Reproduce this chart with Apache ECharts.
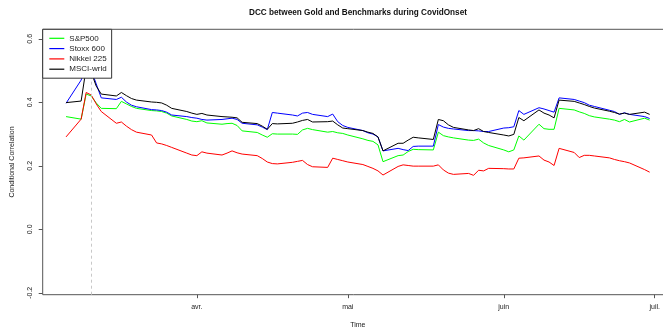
<!DOCTYPE html>
<html>
<head>
<meta charset="utf-8">
<script src="https://cdn.jsdelivr.net/npm/echarts@6/dist/echarts.min.js"></script>
<style>
  html, body { margin: 0; padding: 0; background: #fff; }
  #chart { width: 663px; height: 329px; }
</style>
</head>
<body>
<div id="chart"></div>
<script>
// Trading days, 6 March 2020 to 30 June 2020
const dates = [
  '2020-03-06','2020-03-09','2020-03-10','2020-03-11','2020-03-12','2020-03-13',
  '2020-03-16','2020-03-17','2020-03-18','2020-03-19','2020-03-20',
  '2020-03-23','2020-03-24','2020-03-25','2020-03-26','2020-03-27',
  '2020-03-30','2020-03-31','2020-04-01','2020-04-02','2020-04-03',
  '2020-04-06','2020-04-07','2020-04-08','2020-04-09','2020-04-10',
  '2020-04-13','2020-04-14','2020-04-15','2020-04-16','2020-04-17',
  '2020-04-20','2020-04-21','2020-04-22','2020-04-23','2020-04-24',
  '2020-04-27','2020-04-28','2020-04-29','2020-04-30','2020-05-01',
  '2020-05-04','2020-05-05','2020-05-06','2020-05-07','2020-05-08',
  '2020-05-11','2020-05-12','2020-05-13','2020-05-14','2020-05-15',
  '2020-05-18','2020-05-19','2020-05-20','2020-05-21','2020-05-22',
  '2020-05-25','2020-05-26','2020-05-27','2020-05-28','2020-05-29',
  '2020-06-01','2020-06-02','2020-06-03','2020-06-04','2020-06-05',
  '2020-06-08','2020-06-09','2020-06-10','2020-06-11','2020-06-12',
  '2020-06-15','2020-06-16','2020-06-17','2020-06-18','2020-06-19',
  '2020-06-22','2020-06-23','2020-06-24','2020-06-25','2020-06-26',
  '2020-06-29','2020-06-30'
];

// Dynamic conditional correlation of gold with each benchmark
const sp500 = [
  0.355,0.347,0.426,0.420,0.398,0.381,0.380,0.403,0.395,0.387,0.381,0.374,0.373,0.371,0.366,0.357,0.346,0.341,
  0.339,0.342,0.335,0.331,0.333,0.334,0.327,0.310,0.305,0.297,0.290,0.301,0.300,0.300,0.299,0.313,0.318,0.314,0.306,0.308,0.304,0.302,
  0.297,0.285,0.280,0.277,0.266,0.213,0.232,0.234,0.245,0.252,0.251,0.250,0.306,0.295,0.291,0.288,0.281,0.280,0.284,0.272,0.264,
  0.250,0.244,0.250,0.294,0.281,0.331,0.317,0.315,0.315,0.381,0.376,0.370,0.365,0.358,0.354,0.347,0.344,0.339,0.346,0.338,0.350,0.344
];
const stoxx600 = [
  0.397,0.470,0.514,0.502,0.458,0.414,0.409,0.416,0.401,0.391,0.386,0.377,0.376,0.374,0.369,0.360,0.355,0.352,
  0.350,0.346,0.344,0.346,0.348,0.350,0.346,0.334,0.329,0.322,0.314,0.368,0.366,0.360,0.357,0.366,0.368,0.362,0.355,0.363,0.339,0.327,
  0.321,0.311,0.304,0.300,0.291,0.247,0.255,0.251,0.248,0.261,0.262,0.262,0.330,0.322,0.318,0.316,0.311,0.311,0.310,0.308,0.308,
  0.319,0.320,0.323,0.374,0.362,0.383,0.379,0.374,0.369,0.414,0.409,0.404,0.399,0.391,0.387,0.375,0.371,0.362,0.367,0.362,0.355,0.349
];
const nikkei225 = [
  0.291,0.347,0.431,0.423,0.395,0.371,0.334,0.338,0.325,0.314,0.306,0.297,0.272,0.269,0.264,0.258,0.240,0.234,
  0.232,0.244,0.240,0.234,0.240,0.247,0.241,0.237,0.232,0.223,0.212,0.207,0.206,0.211,0.214,0.217,0.204,0.197,0.195,0.224,0.220,0.216,
  0.212,0.204,0.198,0.192,0.184,0.171,0.198,0.203,0.201,0.199,0.199,0.199,0.203,0.187,0.177,0.173,0.176,0.170,0.186,0.184,0.192,
  0.191,0.190,0.190,0.224,0.225,0.231,0.218,0.212,0.201,0.255,0.242,0.226,0.233,0.233,0.231,0.225,0.220,0.216,0.213,0.209,0.188,0.180
];
const msciWorld = [
  0.399,0.404,0.508,0.495,0.451,0.426,0.420,0.431,0.421,0.412,0.407,0.401,0.400,0.398,0.391,0.381,0.371,0.366,
  0.362,0.365,0.360,0.355,0.354,0.353,0.351,0.337,0.333,0.325,0.315,0.333,0.332,0.334,0.338,0.343,0.346,0.338,0.339,0.341,0.329,0.319,
  0.317,0.311,0.306,0.302,0.291,0.247,0.271,0.271,0.281,0.290,0.288,0.283,0.346,0.342,0.329,0.321,0.313,0.311,0.317,0.308,0.305,
  0.297,0.294,0.299,0.352,0.342,0.376,0.366,0.360,0.351,0.407,0.403,0.398,0.393,0.387,0.382,0.372,0.368,0.363,0.366,0.362,0.369,0.362
];

const seriesNames = ['S&P500', 'Stoxx 600', 'Nikkei 225', 'MSCI-wrld'];
const seriesColors = ['#00ff00', '#0000ff', '#ff0000', '#000000'];

// Axis ticks
const xTickDates = ['2020-04-01', '2020-05-01', '2020-06-01', '2020-07-01'];
const xTickLabels = ['avr.', 'mai', 'juin', 'juil.'];
const yTicks = [-0.2, 0.0, 0.2, 0.4, 0.6];

// Date marking the onset (WHO pandemic declaration)
const onsetDate = '2020-03-11';

// Day number (UTC) for a YYYY-MM-DD string; the x axis is a plain numeric day scale
const DAY = 86400000;
const dayNum = s => {
  const [y, m, d] = s.split('-').map(Number);
  return Date.UTC(y, m - 1, d) / DAY;
};

const firstD = dayNum(dates[0]);
const lastD = dayNum(dates[dates.length - 1]);
const pad = (lastD - firstD) * 0.04;   // R-style 4% axis extension

const xTickDays = xTickDates.map(dayNum);

const allValues = [sp500, stoxx600, nikkei225, msciWorld];

const font = '"Liberation Sans", Arial, sans-serif';

const series = allValues.map((vals, i) => ({
  name: seriesNames[i],
  type: 'line',
  data: dates.map((d, j) => [dayNum(d), vals[j]]),
  showSymbol: false,
  symbol: 'none',
  lineStyle: { width: 1, color: seriesColors[i] },
  itemStyle: { color: seriesColors[i] },
  emphasis: { disabled: true },
  animation: false,
  z: 3
}));

series[0].markLine = {
  silent: true,
  symbol: 'none',
  label: { show: false },
  lineStyle: { type: [3, 3], color: '#c8c8c8', width: 1 },
  data: [{ xAxis: dayNum(onsetDate) }],
  animation: false
};

const chart = echarts.init(document.getElementById('chart'), null, { renderer: 'canvas' });

chart.setOption({
  backgroundColor: '#ffffff',
  animation: false,
  textStyle: { fontFamily: font },
  title: {
    text: 'DCC between Gold and Benchmarks during CovidOnset',
    left: 358,
    textAlign: 'center',
    top: 9,
    padding: 0,
    textStyle: { fontSize: 8.2, fontWeight: 'bold', color: '#111', fontFamily: font }
  },
  grid: {
    left: 42.7,
    right: -10,
    top: 29.3,
    bottom: 34.3,
    containLabel: false,
    outerBoundsMode: 'none',
    show: true,
    borderColor: '#555',
    borderWidth: 1,
    backgroundColor: 'transparent'
  },
  legend: {
    data: seriesNames,
    orient: 'vertical',
    left: 42.7,
    top: 29.3,
    padding: [5, 5, 5, 6],
    itemWidth: 15,
    itemHeight: 8,
    itemGap: 2.3,
    itemTextGap: 8,
    backgroundColor: '#ffffff',
    borderColor: '#333',
    borderWidth: 1,
    borderRadius: 0,
    selectedMode: false,
    itemStyle: { opacity: 0 },
    lineStyle: { width: 1.2 },
    textStyle: { fontSize: 8, color: '#222', fontFamily: font },
    z: 10
  },
  xAxis: {
    type: 'value',
    min: firstD - pad,
    max: lastD + pad,
    name: 'Time',
    nameLocation: 'middle',
    nameGap: 27,
    nameTextStyle: { fontSize: 7, color: '#222', fontFamily: font },
    axisLine: { show: false, onZero: false },
    axisTick: { show: true, length: 3.5, lineStyle: { color: '#555' }, customValues: xTickDays },
    axisLabel: {
      fontSize: 7,
      color: '#222',
      margin: 9,
      hideOverlap: false,
      customValues: xTickDays,
      formatter: v => {
        const k = xTickDays.findIndex(t => Math.abs(t - v) < 0.5);
        return k >= 0 ? xTickLabels[k] : '';
      }
    },
    splitLine: { show: false }
  },
  yAxis: {
    type: 'value',
    min: -0.206,
    max: 0.630,
    name: 'Conditional Correlation',
    nameLocation: 'middle',
    nameRotate: 90,
    nameGap: 27,
    nameTextStyle: { fontSize: 7, color: '#222', fontFamily: font },
    axisLine: { show: false, onZero: false },
    axisTick: { show: true, length: 4, lineStyle: { color: '#555' }, customValues: yTicks },
    axisLabel: {
      fontSize: 7,
      color: '#222',
      rotate: 90,
      margin: 9,
      customValues: yTicks,
      formatter: v => v.toFixed(1)
    },
    splitLine: { show: false }
  },
  series: series
});
</script>
</body>
</html>
